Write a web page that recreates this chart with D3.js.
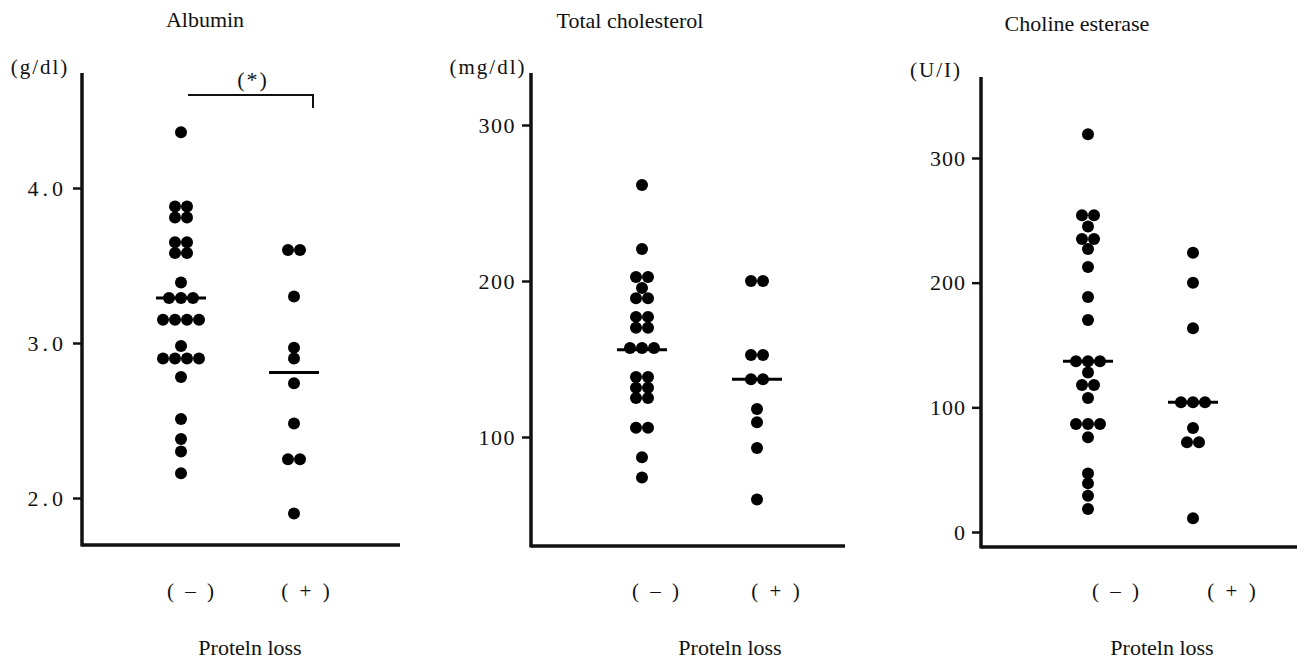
<!DOCTYPE html>
<html>
<head>
<meta charset="utf-8">
<script src="https://cdn.jsdelivr.net/npm/d3@7"></script>
<style>
  body { margin: 0; background: #fff; }
  text { font-family: "Liberation Serif", "DejaVu Serif", serif; fill: #111; }
</style>
</head>
<body>
<div id="chart"></div>
<script>
// group labels (protein loss - / +)
var groups = ["minus", "plus"];
var groupLabels = ["( \u2013 )", "( + )"];

// Albumin (g/dl)
var albuminMinus = [4.36, 3.88, 3.88, 3.81, 3.81, 3.65, 3.65, 3.58, 3.58, 3.39,
    3.29, 3.29, 3.29, 3.15, 3.15, 3.15, 3.15, 2.98, 2.90, 2.90, 2.90, 2.90,
    2.78, 2.51, 2.38, 2.30, 2.16];
var albuminPlus = [3.60, 3.60, 3.30, 2.97, 2.90, 2.74, 2.48, 2.25, 2.25, 1.90];
var albuminMedian = [3.29, 2.81];
var albuminTicks = [2.0, 3.0, 4.0];

// Total cholesterol (mg/dl)
var cholMinus = [261.5, 220.5, 202.5, 202.5, 195.5, 189, 189, 177, 177, 170, 170,
    157, 157, 157, 138.5, 138.5, 131.5, 131.5, 125, 125, 106, 106, 87, 74];
var cholPlus = [200, 200, 152.5, 152.5, 137, 137, 118, 109.5, 93, 60];
var cholMedian = [156, 137];
var cholTicks = [100, 200, 300];

// Choline esterase (U/I)
var cheMinus = [319, 254, 254, 245, 235, 235, 227, 212.5, 188.5, 170,
    137, 137, 137, 128, 118, 118, 107.5, 86.6, 86.6, 86.6, 76, 47, 39, 29, 18.5];
var chePlus = [224, 200, 163.5, 104, 104, 104, 83.5, 72, 72, 11];
var cheMedian = [137, 104];
var cheTicks = [0, 100, 200, 300];

var width = 1297, height = 659;

var svg = d3.select("#chart")
    .append("svg")
    .attr("width", width)
    .attr("height", height);

var panels = [
    {
        title: "Albumin", titleX: 205, titleY: 27,
        unit: "(g/dl)", unitX: 40, unitY: 74,
        axisX: 82, axisTop: 73, axisBottom: 545, axisRight: 400,
        domain: [2, 4], range: [498, 188], ticks: albuminTicks, fmt: d3.format(".1f"),
        tickSpacing: "4px",
        dots: [albuminMinus, albuminPlus], median: albuminMedian,
        dotX: [181, 294], labelX: [192, 307], lossX: 250
    },
    {
        title: "Total cholesterol", titleX: 630, titleY: 28,
        unit: "(mg/dl)", unitX: 488, unitY: 74,
        axisX: 531, axisTop: 73, axisBottom: 546, axisRight: 845,
        domain: [100, 300], range: [437, 125], ticks: cholTicks, fmt: d3.format("d"),
        tickSpacing: "1.5px",
        dots: [cholMinus, cholPlus], median: cholMedian,
        dotX: [642, 757], labelX: [657, 777], lossX: 730
    },
    {
        title: "Choline esterase", titleX: 1077, titleY: 31,
        unit: "(U/I)", unitX: 936, unitY: 77,
        axisX: 981, axisTop: 77, axisBottom: 547, axisRight: 1297,
        domain: [0, 300], range: [532, 158], ticks: cheTicks, fmt: d3.format("d"),
        tickSpacing: "1px",
        dots: [cheMinus, chePlus], median: cheMedian,
        dotX: [1088, 1193], labelX: [1117, 1233], lossX: 1162
    }
];

panels.forEach(drawPanel);

function drawPanel(p) {
    var g = svg.append("g");

    var y = d3.scaleLinear().domain(p.domain).range(p.range);
    var x = d3.scaleOrdinal().domain(groups).range(p.dotX);
    var xl = d3.scaleOrdinal().domain(groups).range(p.labelX);

    // title + unit
    g.append("text")
        .attr("x", p.titleX).attr("y", p.titleY)
        .attr("text-anchor", "middle")
        .style("font-size", "22px")
        .text(p.title);
    g.append("text")
        .attr("x", p.unitX).attr("y", p.unitY)
        .attr("text-anchor", "middle")
        .style("font-size", "21px")
        .style("letter-spacing", "2px")
        .text(p.unit);

    // y axis (ticks from d3, long spine drawn by hand)
    var ax = g.append("g")
        .attr("transform", "translate(" + p.axisX + ",0)")
        .call(d3.axisLeft(y).tickValues(p.ticks).tickFormat(p.fmt)
            .tickSize(9).tickSizeOuter(0).tickPadding(6));
    ax.select(".domain").remove();
    ax.selectAll(".tick line").attr("stroke", "#111").attr("stroke-width", 2.5);
    ax.selectAll(".tick text")
        .style("font-family", "'Liberation Serif', serif")
        .style("font-size", "22px")
        .style("letter-spacing", p.tickSpacing)
        .attr("fill", "#111");

    g.append("line")
        .attr("x1", p.axisX).attr("x2", p.axisX)
        .attr("y1", p.axisTop).attr("y2", p.axisBottom + 1.5)
        .attr("stroke", "#111").attr("stroke-width", 3.5);
    g.append("line")
        .attr("x1", p.axisX).attr("x2", p.axisRight)
        .attr("y1", p.axisBottom).attr("y2", p.axisBottom)
        .attr("stroke", "#111").attr("stroke-width", 3.5);

    // dots, equal values spread side by side
    groups.forEach(function (grp, gi) {
        var vals = p.dots[gi];
        var rows = d3.group(vals, function (v) { return v; });
        var pts = [];
        rows.forEach(function (arr, v) {
            arr.forEach(function (d, i) {
                pts.push({v: v, off: (i - (arr.length - 1) / 2) * 12});
            });
        });
        g.append("g")
            .selectAll("circle")
            .data(pts)
            .enter()
            .append("circle")
            .attr("cx", function (d) { return x(grp) + d.off; })
            .attr("cy", function (d) { return y(d.v); })
            .attr("r", 6)
            .attr("fill", "#000");

        // median bar
        g.append("line")
            .attr("x1", x(grp) - 25).attr("x2", x(grp) + 25)
            .attr("y1", y(p.median[gi])).attr("y2", y(p.median[gi]))
            .attr("stroke", "#000").attr("stroke-width", 3);

        g.append("text")
            .attr("x", xl(grp)).attr("y", 598)
            .attr("text-anchor", "middle")
            .style("font-size", "21px")
            .style("letter-spacing", "3px")
            .text(groupLabels[gi]);
    });

    g.append("text")
        .attr("x", p.lossX).attr("y", 655)
        .attr("text-anchor", "middle")
        .style("font-size", "22px")
        .text("Proteln loss");
}

// significance bracket on the albumin panel
var sig = svg.append("g");
sig.append("path")
    .attr("d", d3.line()([[188, 95], [313, 95], [313, 108]]))
    .attr("fill", "none").attr("stroke", "#111").attr("stroke-width", 2);
sig.append("text")
    .attr("x", 253).attr("y", 87)
    .attr("text-anchor", "middle")
    .style("font-size", "22px")
    .style("letter-spacing", "2px")
    .text("(*)");
</script>
</body>
</html>
